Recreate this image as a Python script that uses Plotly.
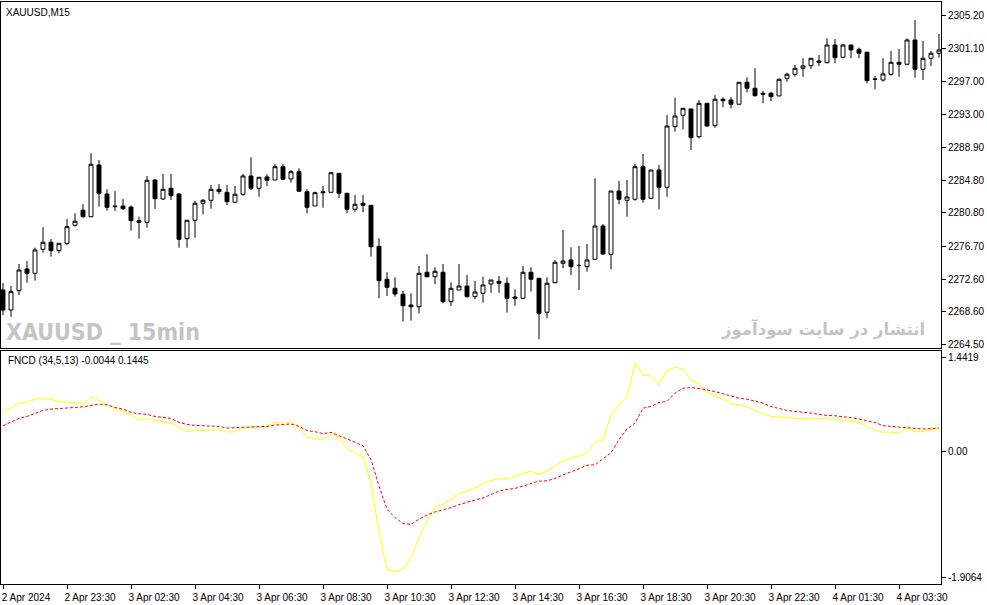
import plotly.graph_objects as go

# XAUUSD M15 bars, 2 Apr 21:30 -> 4 Apr 03:30 (broker time)
opens = [2271.27, 2268.79, 2271.18, 2273.87, 2273.33, 2276.30, 2277.17, 2276.13, 2277.04, 2279.27,
         2281.13, 2280.33, 2286.73, 2283.14, 2281.66, 2281.66, 2281.53, 2279.84, 2279.64, 2284.87,
         2282.52, 2283.85, 2283.14, 2277.61, 2279.89, 2281.99, 2282.36, 2283.72, 2283.35, 2282.12,
         2283.11, 2285.37, 2283.85, 2285.25, 2284.87, 2286.52, 2285.00, 2285.90, 2283.43, 2281.66,
         2283.43, 2283.35, 2285.70, 2283.23, 2281.25, 2281.99, 2281.74, 2276.67, 2272.59, 2271.48,
         2270.74, 2269.41, 2269.20, 2273.46, 2272.91, 2273.46, 2269.82, 2271.27, 2271.76, 2270.44,
         2270.86, 2272.01, 2272.34, 2272.10, 2270.40, 2270.24, 2273.46, 2272.71, 2268.51, 2272.17,
         2274.57, 2274.98, 2274.32, 2274.15, 2275.06, 2279.18, 2275.68, 2283.51, 2282.36, 2282.49,
         2286.52, 2282.61, 2286.11, 2283.97, 2291.47, 2292.88, 2293.66, 2290.23, 2294.36, 2291.59,
         2294.86, 2294.77, 2294.24, 2296.96, 2296.22, 2295.60, 2295.60, 2295.27, 2297.45, 2297.95,
         2298.69, 2299.01, 2299.59, 2299.38, 2301.57, 2300.05, 2301.57, 2301.04, 2300.67, 2297.37,
         2297.24, 2297.95, 2299.43, 2299.19, 2302.19, 2298.57, 2299.93, 2300.55]
highs = [2272.13, 2271.76, 2274.48, 2274.86, 2276.50, 2279.02, 2277.58, 2277.04, 2280.05, 2280.75,
         2281.87, 2288.18, 2287.35, 2283.72, 2283.51, 2282.52, 2281.70, 2280.33, 2285.37, 2284.95,
         2285.62, 2285.62, 2283.23, 2279.89, 2282.31, 2282.52, 2284.26, 2284.38, 2284.26, 2284.13,
         2285.62, 2287.68, 2285.21, 2285.58, 2286.82, 2286.82, 2286.11, 2286.32, 2283.72, 2283.43,
         2284.13, 2285.78, 2285.70, 2283.23, 2283.02, 2283.02, 2281.74, 2277.66, 2273.46, 2272.84,
         2271.14, 2270.86, 2274.24, 2275.68, 2274.08, 2274.48, 2272.22, 2274.48, 2273.12, 2272.38,
         2272.91, 2272.50, 2273.00, 2272.84, 2271.35, 2274.24, 2274.08, 2272.71, 2272.84, 2274.98,
         2278.69, 2276.55, 2276.71, 2276.96, 2285.08, 2279.43, 2283.51, 2284.75, 2284.87, 2286.85,
         2288.09, 2286.11, 2286.73, 2292.91, 2295.05, 2293.74, 2293.66, 2294.77, 2294.36, 2295.39,
         2295.10, 2295.10, 2296.96, 2297.58, 2298.69, 2295.92, 2295.80, 2297.45, 2298.15, 2299.10,
         2299.93, 2299.93, 2300.34, 2302.40, 2302.32, 2301.70, 2301.57, 2301.24, 2300.75, 2297.74,
         2299.93, 2300.83, 2301.08, 2302.40, 2304.67, 2302.07, 2300.83, 2302.93]
lows = [2268.17, 2267.96, 2270.65, 2272.17, 2272.42, 2275.88, 2275.39, 2275.81, 2276.80, 2279.10,
        2280.21, 2280.26, 2281.57, 2281.08, 2281.04, 2281.16, 2278.60, 2277.61, 2278.97, 2281.29,
        2282.40, 2282.40, 2276.50, 2276.50, 2277.74, 2280.63, 2281.32, 2283.13, 2281.78, 2282.12,
        2282.93, 2283.64, 2282.81, 2284.13, 2284.87, 2284.96, 2284.54, 2283.48, 2280.75, 2281.66,
        2281.45, 2283.35, 2282.68, 2280.75, 2280.95, 2280.88, 2275.39, 2270.24, 2270.52, 2270.44,
        2267.35, 2267.47, 2268.38, 2272.84, 2271.97, 2269.62, 2269.29, 2271.27, 2270.31, 2270.12,
        2269.70, 2270.93, 2270.93, 2268.46, 2269.32, 2270.12, 2271.06, 2265.17, 2267.77, 2272.10,
        2273.95, 2273.12, 2271.27, 2273.53, 2275.06, 2275.60, 2273.83, 2281.87, 2280.33, 2282.31,
        2282.07, 2282.49, 2281.25, 2282.81, 2290.85, 2291.15, 2288.59, 2290.03, 2291.47, 2291.34,
        2293.87, 2293.74, 2294.24, 2295.72, 2295.18, 2294.36, 2294.65, 2295.27, 2297.03, 2297.65,
        2297.65, 2298.60, 2298.98, 2299.31, 2299.31, 2299.93, 2299.93, 2299.93, 2296.84, 2296.09,
        2297.03, 2297.78, 2297.65, 2299.10, 2297.53, 2297.24, 2298.98, 2300.00]
closes = [2268.79, 2271.06, 2273.74, 2273.33, 2276.22, 2277.17, 2276.13, 2277.04, 2279.10, 2279.77,
          2280.33, 2286.82, 2283.23, 2281.50, 2281.58, 2281.32, 2279.84, 2279.64, 2284.84, 2282.56,
          2283.72, 2282.93, 2277.54, 2279.89, 2281.99, 2282.36, 2283.72, 2283.43, 2282.19, 2283.11,
          2285.37, 2283.85, 2285.21, 2284.84, 2286.52, 2284.96, 2285.90, 2283.48, 2281.50, 2283.30,
          2283.30, 2285.78, 2283.23, 2281.25, 2281.87, 2281.74, 2276.62, 2272.42, 2271.60, 2270.77,
          2269.32, 2269.20, 2273.33, 2272.91, 2273.58, 2269.82, 2271.48, 2271.76, 2270.44, 2271.02,
          2271.89, 2272.50, 2272.10, 2270.24, 2270.24, 2273.46, 2272.59, 2268.38, 2272.10, 2274.69,
          2274.85, 2274.15, 2274.29, 2274.98, 2279.18, 2275.72, 2283.51, 2282.49, 2282.77, 2286.52,
          2282.49, 2286.11, 2283.97, 2291.55, 2292.79, 2293.74, 2290.11, 2294.36, 2291.55, 2294.86,
          2294.68, 2294.24, 2296.96, 2296.22, 2295.30, 2295.48, 2295.18, 2297.33, 2297.95, 2298.69,
          2298.98, 2299.93, 2299.43, 2301.57, 2300.00, 2301.57, 2300.96, 2300.55, 2297.16, 2297.33,
          2297.99, 2299.43, 2299.19, 2302.19, 2298.57, 2299.93, 2300.55, 2300.96]

# FNCD (34,5,13) main line and signal line
fncd_main = [0.564, 0.631, 0.693, 0.712, 0.750, 0.765, 0.750, 0.712, 0.707, 0.702,
             0.679, 0.779, 0.731, 0.664, 0.617, 0.574, 0.521, 0.454, 0.469, 0.445,
             0.431, 0.407, 0.345, 0.283, 0.297, 0.297, 0.307, 0.307, 0.278, 0.283,
             0.330, 0.349, 0.359, 0.359, 0.416, 0.407, 0.416, 0.349, 0.206, 0.183,
             0.168, 0.249, 0.206, 0.035, -0.022, -0.080, -0.452, -1.167, -1.692, -1.730,
             -1.692, -1.525, -1.239, -1.000, -0.800, -0.762, -0.690, -0.604, -0.571, -0.523,
             -0.461, -0.418, -0.394, -0.390, -0.371, -0.318, -0.285, -0.333, -0.285, -0.213,
             -0.142, -0.094, -0.070, -0.022, 0.130, 0.159, 0.526, 0.669, 0.788, 1.275,
             1.098, 1.084, 0.955, 1.160, 1.208, 1.184, 1.017, 0.970, 0.850, 0.803,
             0.750, 0.683, 0.669, 0.640, 0.588, 0.540, 0.502, 0.493, 0.483, 0.474,
             0.469, 0.469, 0.469, 0.478, 0.454, 0.450, 0.445, 0.416, 0.359, 0.302,
             0.273, 0.278, 0.264, 0.340, 0.283, 0.283, 0.311, 0.335]
fncd_signal = [0.369, 0.421, 0.474, 0.502, 0.550, 0.588, 0.607, 0.612, 0.621, 0.631,
               0.641, 0.655, 0.679, 0.669, 0.631, 0.607, 0.559, 0.540, 0.531, 0.502,
               0.488, 0.474, 0.416, 0.388, 0.373, 0.369, 0.369, 0.359, 0.335, 0.340,
               0.349, 0.349, 0.354, 0.359, 0.378, 0.383, 0.393, 0.359, 0.297, 0.283,
               0.254, 0.273, 0.230, 0.178, 0.130, 0.082, -0.118, -0.499, -0.833, -0.953,
               -1.038, -1.048, -0.976, -0.914, -0.871, -0.843, -0.809, -0.766, -0.728, -0.700,
               -0.671, -0.619, -0.571, -0.547, -0.533, -0.499, -0.461, -0.428, -0.423, -0.390,
               -0.337, -0.299, -0.251, -0.199, -0.194, -0.108, -0.022, 0.168, 0.321, 0.407,
               0.621, 0.645, 0.702, 0.717, 0.836, 0.908, 0.917, 0.903, 0.884, 0.860,
               0.827, 0.798, 0.765, 0.750, 0.726, 0.693, 0.645, 0.612, 0.588, 0.574,
               0.564, 0.550, 0.531, 0.516, 0.512, 0.502, 0.483, 0.464, 0.445, 0.416,
               0.369, 0.359, 0.349, 0.349, 0.335, 0.321, 0.326, 0.335]

time_labels = ["2 Apr 2024", "2 Apr 23:30", "3 Apr 02:30", "3 Apr 04:30", "3 Apr 06:30",
               "3 Apr 08:30", "3 Apr 10:30", "3 Apr 12:30", "3 Apr 14:30", "3 Apr 16:30",
               "3 Apr 18:30", "3 Apr 20:30", "3 Apr 22:30", "4 Apr 01:30", "4 Apr 03:30"]
price_ticks = [2305.20, 2301.10, 2297.00, 2293.00, 2288.90, 2284.80, 2280.80,
               2276.70, 2272.60, 2268.60, 2264.50]
ind_max, ind_min = 1.4419, -1.9064

bars = list(range(len(opens)))
time_ticks = bars[::8]

fig = go.Figure()

fig.add_trace(go.Candlestick(
    x=bars, open=opens, high=highs, low=lows, close=closes,
    increasing=dict(line=dict(color="black", width=1), fillcolor="white"),
    decreasing=dict(line=dict(color="black", width=1), fillcolor="black"),
    whiskerwidth=0, xaxis="x", yaxis="y", showlegend=False, hoverinfo="skip"))

fig.add_trace(go.Scatter(
    x=bars, y=fncd_main, mode="lines", line=dict(color="#FFFF00", width=1),
    xaxis="x2", yaxis="y2", showlegend=False, hoverinfo="skip"))
fig.add_trace(go.Scatter(
    x=bars, y=fncd_signal, mode="lines", line=dict(color="#FF0000", width=1, dash="3px,2px"),
    xaxis="x2", yaxis="y2", showlegend=False, hoverinfo="skip"))

axis_font = dict(family="Liberation Sans", size=10, color="black")
frame = dict(showline=True, linecolor="black", linewidth=1, mirror=True,
             showgrid=False, zeroline=False)
xr = [-0.25, len(bars) - 0.75]

# inset the min/max labels of the indicator window like MT4 does
pad = (ind_max - ind_min) * 6.3 / 233

fig.update_layout(
    width=987, height=605,
    margin=dict(l=1, r=46, t=2, b=21),
    paper_bgcolor="white", plot_bgcolor="white",
    font=axis_font,
    xaxis=dict(domain=[0, 1], anchor="y", range=xr, showticklabels=False,
               rangeslider=dict(visible=False), **frame),
    xaxis2=dict(domain=[0, 1], anchor="y2", range=xr, matches="x",
                tickmode="array", tickvals=time_ticks, ticktext=time_labels,
                ticks="outside", ticklen=4, tickcolor="black",
                ticklabelshift=23, tickfont=axis_font, **frame),
    yaxis=dict(domain=[0.4055, 1], anchor="x", side="right",
               range=[2264.09, 2306.89], tickmode="array", tickvals=price_ticks,
               tickformat=".2f", ticks="outside", ticklen=4, tickcolor="black",
               tickfont=axis_font, **frame),
    yaxis2=dict(domain=[0, 0.4003], anchor="x2", side="right",
                range=[ind_min, ind_max], tickmode="array",
                tickvals=[ind_max - pad, 0, ind_min + pad],
                ticktext=[f"{ind_max:.4f}", "0.00", f"{ind_min:.4f}"],
                ticks="outside", ticklen=4, tickcolor="black",
                tickfont=axis_font, **frame),
)

fig.add_annotation(text="XAUUSD,M15", xref="paper", yref="paper", x=0, y=1,
                   xanchor="left", yanchor="top", xshift=3, yshift=-3,
                   showarrow=False, font=dict(family="Liberation Sans", size=10, color="black"))
fig.add_annotation(text="FNCD (34,5,13) -0.0044 0.1445", xref="paper", yref="paper",
                   x=0, y=0.4003, xanchor="left", yanchor="top", xshift=5, yshift=-2,
                   showarrow=False, font=dict(family="Liberation Sans", size=10, color="black"))
fig.add_annotation(text="<b>XAUUSD _ 15min</b>", xref="paper", yref="paper",
                   x=0, y=0.4055, xanchor="left", yanchor="bottom", xshift=3, yshift=1,
                   showarrow=False,
                   font=dict(family="DejaVu Sans Condensed", size=23, color="#C4C4C4"))
fig.add_annotation(text="<b>انتشار در سایت سودآموز</b>", xref="paper", yref="paper",
                   x=1, y=0.4055, xanchor="right", yanchor="bottom", xshift=-14, yshift=6,
                   showarrow=False,
                   font=dict(family="DejaVu Sans", size=16.5, color="#C4C4C4"))

# drop the default page margin so the 987x605 figure fills the window
fig.write_html("out.html", config={"displayModeBar": False},
               post_script="document.body.style.margin='0';document.body.style.overflow='hidden';")
